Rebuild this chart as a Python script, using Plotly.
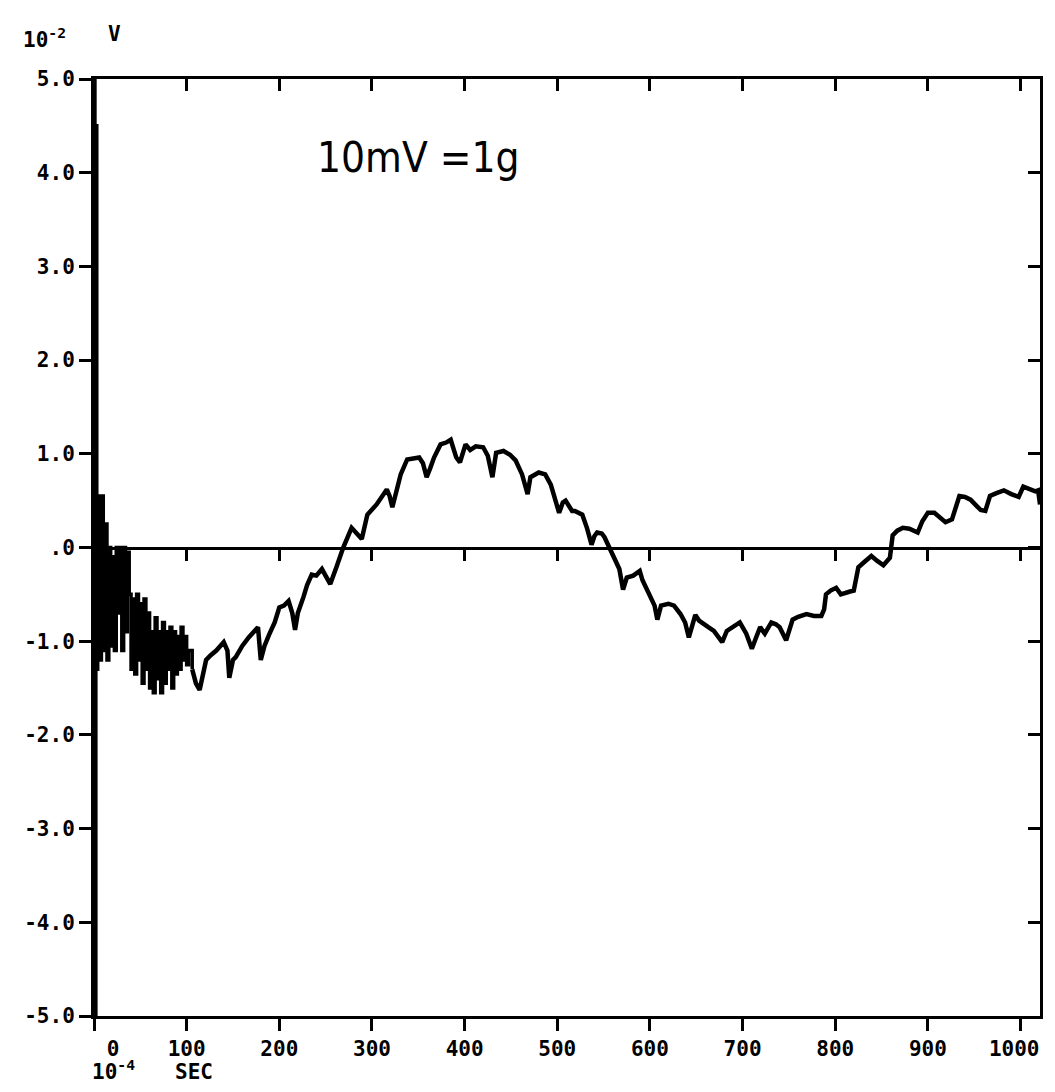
import plotly.graph_objects as go

# time in units of 1e-4 s, voltage in units of 1e-2 V
t = [0, 1, 2, 3, 4, 6, 8, 10, 12, 14, 16, 18, 20, 22, 24, 26, 28, 30, 32, 34, 36, 38,
     40, 42, 44, 46, 48, 50, 52, 54, 56, 58, 60, 62, 64, 66, 68, 70, 72, 74, 76, 78,
     80, 82, 84, 86, 88, 90, 92, 94, 96, 98, 100, 102,
     106, 110, 114, 118, 121, 126, 132, 140, 144, 146, 150, 153, 160, 167, 172, 177,
     180, 184, 189, 195, 200, 205, 210, 214, 217, 220, 226, 230, 235,
     240, 246, 250, 255, 262, 269, 278, 283, 289, 295, 305, 316, 319, 322, 326, 331,
     338, 351, 355, 359, 363, 367, 374, 380, 385, 388, 391, 395, 398, 401, 406, 412,
     420, 425, 430, 434, 442, 449, 455, 462, 468, 471, 480, 487, 493, 498, 502, 506,
     509, 516, 519, 527, 532, 537, 540, 543, 548, 551, 557, 562, 567, 571, 575, 582,
     589, 592, 599, 605, 608, 612, 620, 626, 633, 638, 642, 649, 653, 658, 663, 669,
     674, 678, 683, 690, 697, 704, 710, 715, 719, 724, 731, 736, 740, 747, 754, 760,
     769, 777, 785, 788, 790, 795, 801, 806, 811, 816, 820, 825, 832, 839, 845, 852,
     859, 862, 867, 873, 880, 889, 894, 900, 907, 913, 919, 926, 930, 934, 940, 946,
     952, 957, 962, 967, 974, 982, 990, 998, 1003, 1010, 1016, 1019, 1021]
v = [5.0, -5.0, 4.5, -1.3, 0.55, -1.2, 0.55, -1.1, 0.25, -1.2, 0.0, -1.05, -0.1, -1.1, 0.0, -0.7, 0.0, -1.1, 0.0, -0.9, -0.05, -0.5,
     -1.3, -0.55, -1.35, -0.5, -1.2, -0.6, -1.45, -0.55, -1.3, -0.7, -1.5, -0.9, -1.55, -0.75, -1.4, -0.9, -1.55, -0.8, -1.45, -0.9,
     -1.3, -0.85, -1.5, -0.9, -1.35, -0.95, -1.3, -0.85, -1.2, -0.95, -1.25, -1.1,
     -1.3, -1.45, -1.52, -1.35, -1.2, -1.15, -1.1, -1.01, -1.1, -1.39, -1.2, -1.17, -1.05, -0.96, -0.9, -0.85,
     -1.2, -1.05, -0.93, -0.8, -0.64, -0.62, -0.57, -0.7, -0.88, -0.7, -0.53, -0.4, -0.29,
     -0.3, -0.23, -0.3, -0.39, -0.2, 0.0, 0.21, 0.15, 0.09, 0.35, 0.46, 0.62, 0.55, 0.43, 0.6, 0.78,
     0.94, 0.96, 0.9, 0.75, 0.85, 0.96, 1.1, 1.12, 1.15, 1.05, 0.96, 0.91, 1.0, 1.1, 1.04, 1.08,
     1.07, 0.98, 0.75, 1.01, 1.03, 0.99, 0.93, 0.78, 0.57, 0.75, 0.8, 0.78, 0.67, 0.5, 0.37, 0.48,
     0.5, 0.39, 0.39, 0.35, 0.21, 0.03, 0.12, 0.16, 0.15, 0.11, -0.02, -0.13, -0.23, -0.45, -0.32, -0.3,
     -0.25, -0.35, -0.5, -0.62, -0.77, -0.62, -0.6, -0.62, -0.71, -0.8, -0.96, -0.72, -0.78, -0.82, -0.85, -0.89,
     -0.95, -1.01, -0.89, -0.85, -0.8, -0.92, -1.08, -0.95, -0.85, -0.92, -0.8, -0.82, -0.85, -0.99, -0.77, -0.74,
     -0.71, -0.73, -0.73, -0.66, -0.5, -0.46, -0.43, -0.5, -0.48, -0.47, -0.46, -0.21, -0.15, -0.09, -0.14, -0.19,
     -0.11, 0.13, 0.18, 0.21, 0.2, 0.16, 0.28, 0.37, 0.37, 0.32, 0.27, 0.3, 0.42, 0.55, 0.54, 0.51,
     0.45, 0.4, 0.39, 0.55, 0.58, 0.61, 0.57, 0.54, 0.65, 0.62, 0.6, 0.61, 0.46]

# index where the noisy start-up part (drawn as steps) ends
noisy_end = t.index(106)

x_ticks = [0, 100, 200, 300, 400, 500, 600, 700, 800, 900, 1000]
x_ticktext = ["\u00a0\u00a0\u00a00", "100", "200", "300", "400", "500", "600", "700", "800", "900", "1000\u00a0"]
y_ticks = [5, 4, 3, 2, 1, 0, -1, -2, -3, -4, -5]
y_ticktext = ["5.0", "4.0", "3.0", "2.0", "1.0", ".0", "-1.0", "-2.0", "-3.0", "-4.0", "-5.0"]
x_range = [0, 1021]
y_range = [-5, 5]

MONO = "DejaVu Sans Mono"
tickfont = dict(family=MONO, size=21, color="black", weight="bold")

fig = go.Figure()
fig.add_trace(go.Scatter(x=t[:noisy_end + 1], y=v[:noisy_end + 1], mode="lines",
                         line=dict(color="black", width=3.5, shape="hv"),
                         hoverinfo="skip", showlegend=False))
fig.add_trace(go.Scatter(x=t[noisy_end:], y=v[noisy_end:], mode="lines",
                         line=dict(color="black", width=4.5, shape="linear"),
                         hoverinfo="skip", showlegend=False))
# helper invisible traces so that overlay axes render
for xa, ya in [("x2", "y2"), ("x3", "y")]:
    fig.add_trace(go.Scatter(x=[x_range[0]], y=[y_range[0]], mode="markers", marker=dict(opacity=0),
                             xaxis=xa, yaxis=ya, hoverinfo="skip", showlegend=False))

axis_common = dict(showgrid=False, zeroline=False, showline=True, linecolor="black", linewidth=3,
                   tickcolor="black", tickwidth=3)

fig.update_layout(
    width=1055, height=1092,
    margin=dict(l=86, r=11, t=71, b=84),
    paper_bgcolor="white", plot_bgcolor="white",
    xaxis=dict(range=x_range, tickvals=x_ticks, ticktext=x_ticktext, ticks="outside", ticklen=12,
               tickfont=tickfont, ticklabeloverflow="allow", **axis_common),
    xaxis2=dict(range=x_range, overlaying="x", side="top", anchor="y2", tickvals=x_ticks, ticks="inside",
                ticklen=12, showticklabels=False, **axis_common),
    xaxis3=dict(range=x_range, overlaying="x", anchor="free", position=0.5, side="bottom", tickvals=x_ticks,
                ticks="outside", ticklen=11, showticklabels=False, **axis_common),
    yaxis=dict(range=y_range, tickvals=y_ticks, ticktext=y_ticktext, ticks="outside", ticklen=12,
               tickfont=tickfont, **axis_common),
    yaxis2=dict(range=y_range, overlaying="y", side="right", anchor="x2", tickvals=y_ticks, ticks="inside",
                ticklen=12, showticklabels=False, **axis_common),
)

fig.add_annotation(text="10mV =1g", x=239, y=4.16, xref="x", yref="y", xanchor="left", yanchor="middle",
                   showarrow=False,
                   font=dict(family="DejaVu Sans Condensed, Liberation Sans Narrow, Roboto Condensed, Liberation Sans",
                             size=42, color="black"))

# header and footer labels in pixel-based paper coordinates
W, H = 1055, 1092
pw, ph = W - 86 - 11, H - 71 - 84
def px(xpix):
    return (xpix - 86) / pw
def py(ypix):
    return (H - 84 - ypix) / ph

lab_font = dict(family=MONO, size=21, color="black", weight="bold")
fig.add_annotation(text="10<sup>-2</sup>", x=px(12), y=py(46), xref="paper", yref="paper", xanchor="left",
                   yanchor="bottom", showarrow=False, font=lab_font)
fig.add_annotation(text="V", x=px(98), y=py(40), xref="paper", yref="paper", xanchor="left",
                   yanchor="bottom", showarrow=False, font=lab_font)
fig.add_annotation(text="10<sup>-4</sup>", x=px(82), y=py(1078), xref="paper", yref="paper", xanchor="left",
                   yanchor="bottom", showarrow=False, font=lab_font)
fig.add_annotation(text="SEC", x=px(166), y=py(1078), xref="paper", yref="paper", xanchor="left",
                   yanchor="bottom", showarrow=False, font=lab_font)

fig.write_html("out.html")
